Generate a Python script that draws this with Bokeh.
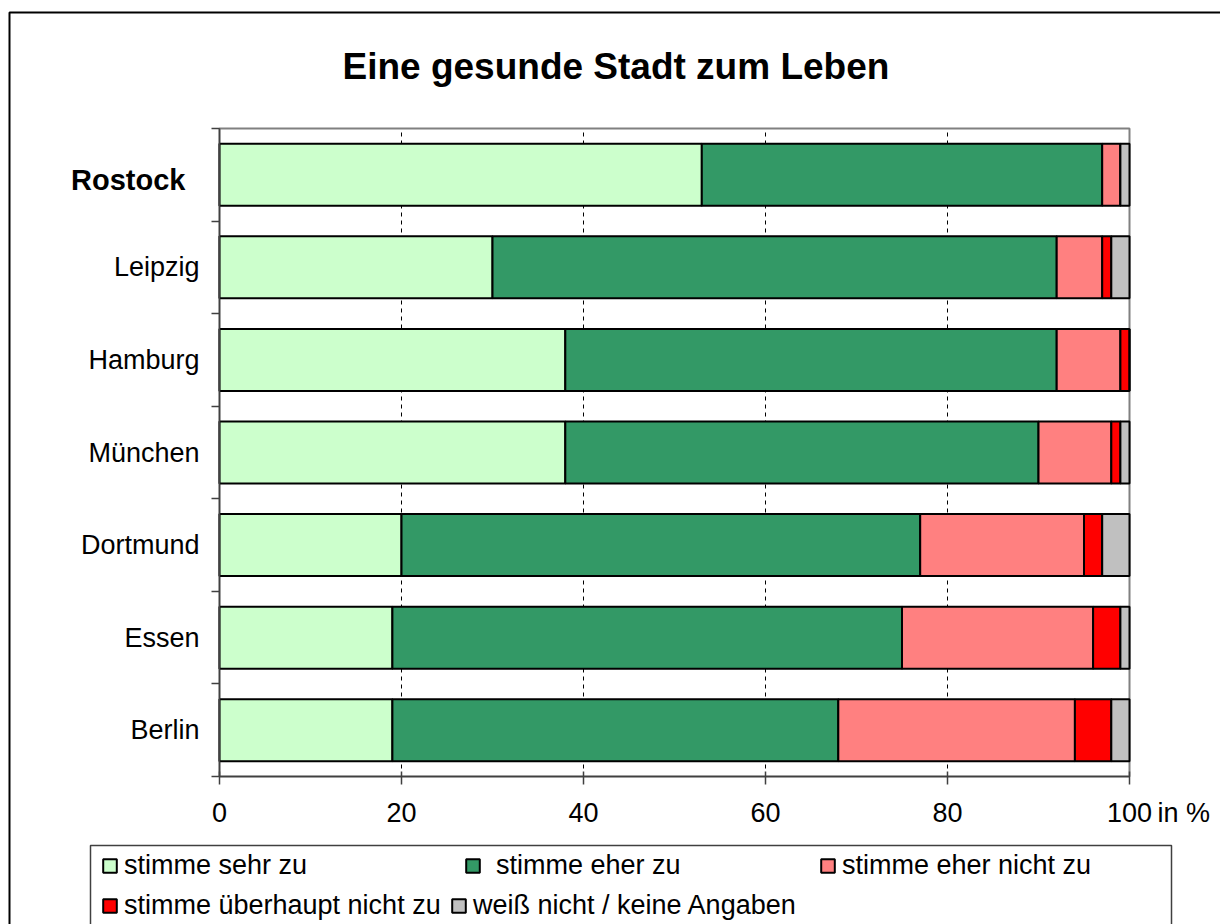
from bokeh.plotting import figure
from bokeh.models import (FixedTicker, Legend, LegendItem, Label, BoxAnnotation,
                          Range1d, ColumnDataSource, LinearAxis)
from bokeh.embed import file_html
from bokeh.resources import INLINE

title = "Eine gesunde Stadt zum Leben"
cities = ["Rostock", "Leipzig", "Hamburg", "München", "Dortmund", "Essen", "Berlin"]
series = ["stimme sehr zu", "stimme eher zu", "stimme eher nicht zu",
          "stimme überhaupt nicht zu", "weiß nicht / keine Angaben"]
sehr_zu = [53, 30, 38, 38, 20, 19, 19]
eher_zu = [44, 62, 54, 52, 57, 56, 49]
eher_nicht_zu = [2, 5, 7, 8, 18, 21, 26]
ueberhaupt_nicht_zu = [0, 1, 1, 1, 2, 3, 4]
weiss_nicht = [1, 2, 0, 1, 3, 1, 2]
x_ticks = [0, 20, 40, 60, 80, 100]
x_unit = "in %"
colors = ["#CCFFCC", "#339966", "#FF8080", "#FF0000", "#C0C0C0"]

FONT = "Liberation Sans"
W, H = 1220, 924
# plot-area placement in pixels
PX0, PX100, PY_BOT, PY_TOP = 219, 1129, 776, 128
n = len(cities)
sx = (PX100 - PX0) / 100.0
sy = (PY_BOT - PY_TOP) / float(n)


def X(px):
    return (px - PX0) / sx


def Y(py):
    return (PY_BOT - py) / sy


ypos = [n - i - 0.5 for i in range(n)]
keys = ["s0", "s1", "s2", "s3", "s4"]
source = ColumnDataSource(dict(y=ypos, s0=sehr_zu, s1=eher_zu, s2=eher_nicht_zu,
                               s3=ueberhaupt_nicht_zu, s4=weiss_nicht))

p = figure(width=W, height=H, output_backend="svg", toolbar_location=None,
           x_range=Range1d(X(0), X(W)), y_range=Range1d(Y(H), Y(0)),
           x_axis_location=None, y_axis_location=None,
           min_border=0)
p.background_fill_color = "white"
p.border_fill_color = "white"
p.outline_line_color = None
p.xgrid.visible = False
p.ygrid.visible = False

# dashed vertical grid lines inside the plot area
grid_x = x_ticks[1:-1]
p.segment(x0=grid_x, y0=[0] * len(grid_x), x1=grid_x, y1=[n] * len(grid_x),
          line_color="black", line_dash="4 4", line_width=1, level="underlay")

renderers = p.hbar_stack(keys, y="y", height=0.67, source=source, color=colors,
                         line_color="black", line_width=2)

# plot area border (grey, top & right visible)
p.add_layout(BoxAnnotation(left=0, right=100, bottom=0, top=n, fill_alpha=0,
                           line_color="#808080", line_alpha=1, line_width=2,
                           level="underlay"))

# x axis
xa = LinearAxis(fixed_location=0, bounds=(0, 100))
xa.ticker = FixedTicker(ticks=x_ticks)
xa.minor_tick_line_color = None
xa.major_tick_in = 5
xa.major_tick_out = 8
xa.axis_line_color = "#404040"
xa.axis_line_width = 1.5
xa.major_tick_line_color = "#404040"
xa.major_tick_line_width = 1.5
xa.major_label_text_font = FONT
xa.major_label_text_font_size = "27px"
xa.major_label_text_color = "black"
xa.major_label_standoff = 18
p.add_layout(xa, "below")

# y axis (ticks at category boundaries, labels centred in bands)
ya = LinearAxis(fixed_location=0, bounds=(0, n))
ya.ticker = FixedTicker(ticks=ypos, minor_ticks=list(range(n + 1)))
ya.major_tick_line_color = None
ya.major_tick_out = 0
ya.major_tick_in = 0
ya.minor_tick_out = 8
ya.minor_tick_in = 0
ya.minor_tick_line_color = "#404040"
ya.minor_tick_line_width = 1.5
ya.axis_line_color = "#404040"
ya.axis_line_width = 1.5
ya.major_label_text_font = FONT
ya.major_label_text_font_size = "27px"
ya.major_label_text_color = "black"
ya.major_label_standoff = 12
ya.major_label_overrides = {y: ("" if i == 0 else c) for i, (y, c) in enumerate(zip(ypos, cities))}
p.add_layout(ya, "left")

# bold first category
p.add_layout(Label(x=0, y=ypos[0] - 5 / sy, x_offset=-34, text=cities[0], text_align="right",
                   text_baseline="middle", text_font=FONT, text_font_size="29px",
                   text_font_style="bold", text_color="black"))
# unit after last tick
p.add_layout(Label(x=x_ticks[-1], y=Y(812), x_offset=28, text=x_unit, text_align="left",
                   text_baseline="middle", text_font=FONT, text_font_size="27px",
                   text_color="black"))
# title
p.add_layout(Label(x=X(342), y=Y(66), text=title, text_align="left",
                   text_baseline="middle", text_font=FONT, text_font_size="37px",
                   text_font_style="bold", text_color="black"))

# legend box and outer chart frame
p.add_layout(BoxAnnotation(left=X(90), right=X(1171), top=Y(845), bottom=Y(1000),
                           fill_alpha=0, line_color="#404040", line_alpha=1, line_width=1.5))
p.add_layout(BoxAnnotation(left=X(9), right=X(1400), top=Y(12), bottom=Y(1100),
                           fill_alpha=0, line_color="black", line_alpha=1, line_width=2))

# legends (one per item, placed like the reference)
GL = 17
leg_pos = [(101, 865.5, 6), (464, 865.5, 15), (819, 865.5, 6), (101, 905.5, 6), (450, 905.5, 6)]
for r, lab, (lx, cy, st) in zip(renderers, series, leg_pos):
    leg = Legend(items=[LegendItem(label=lab, renderers=[r])], location=(lx, H - cy - 15),
                 border_line_alpha=0, background_fill_alpha=0, padding=0, margin=0,
                 glyph_width=GL, glyph_height=GL, label_standoff=st,
                 label_text_font=FONT, label_text_font_size="27px",
                 label_text_color="black", click_policy="none")
    p.add_layout(leg)

open("out.html", "w").write(file_html(p, INLINE))
